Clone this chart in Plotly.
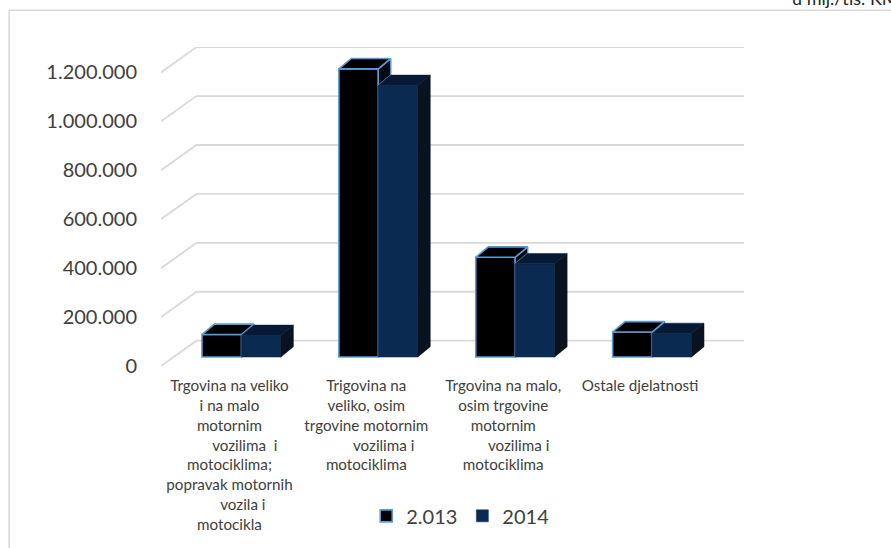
import plotly.graph_objects as go

# ---- data ----
categories = [
    "Trgovina na veliko<br>i na malo<br>motornim<br>\u00a0\u00a0\u00a0\u00a0\u00a0\u00a0\u00a0\u00a0vozilima\u00a0\u00a0i<br>motociklima;<br>popravak motornih<br>\u00a0\u00a0\u00a0\u00a0\u00a0\u00a0\u00a0vozila i<br>motocikla",
    "Trigovina na<br>veliko, osim<br>trgovine motornim<br>\u00a0\u00a0\u00a0\u00a0\u00a0\u00a0\u00a0\u00a0\u00a0vozilima i<br>motociklima",
    "Trgovina na malo,<br>osim trgovine<br>motornim<br>\u00a0\u00a0\u00a0\u00a0\u00a0\u00a0\u00a0\u00a0vozilima i<br>motociklima",
    "Ostale djelatnosti",
]
series_names = ["2.013", "2014"]
values_2013 = [92000, 1178000, 408000, 102500]
values_2014 = [88000, 1110000, 381000, 96000]
y_tick_vals = [0, 200000, 400000, 600000, 800000, 1000000, 1200000]
y_tick_text = ["0", "200.000", "400.000", "600.000", "800.000", "1.000.000", "1.200.000"]
unit_note = "u mlj./tis. KM"

# ---- layout geometry (pixels) ----
W, H = 891, 548
ML, MR, MT, MB = 160.5, 147, 46.5, 180
plot_w = W - ML - MR
plot_h = H - MT - MB
px_per_x = 137.0
x0_range = -0.5
x1_range = x0_range + plot_w / px_per_x
y_max = 1304000
ux = 1.0 / px_per_x            # x units per pixel
uy = y_max / plot_h            # y units per pixel

# 3D offsets
wall_dx, wall_dy = 35.5 * ux, 25.5 * uy      # back wall offset
plane_dx, plane_dy = 12.0 * ux, 9.0 * uy     # bar front plane offset
depth_dx, depth_dy = 12.5 * ux, 10.5 * uy    # bar depth
bar_w = 39.5 * ux

c13_front = "#000000"
c13_edge = "#5b9bd5"
c13_side = "#050a10"
c14_front = "#0b2a52"
c14_top = "#061a36"
c14_side = "#08131f"
grid_c = "#d9d9d9"
text_c = "#404040"
font_f = "Lato"

fig = go.Figure()

centers = [i + plane_dx for i in range(len(categories))]
base = plane_dy

# front faces as bars
fig.add_trace(go.Bar(
    name=series_names[0], x=centers, y=values_2013, base=[base] * 4,
    width=[bar_w] * 4, offset=-bar_w,
    marker=dict(color=c13_front, line=dict(color=c13_edge, width=1.6)),
))
fig.add_trace(go.Bar(
    name=series_names[1], x=centers, y=values_2014, base=[base] * 4,
    width=[bar_w] * 4, offset=0,
    marker=dict(color=c14_front, line=dict(color=c14_front, width=0.5)),
))

def poly(xs, ys, fill, line_c, lw):
    fig.add_trace(go.Scatter(
        x=xs + [xs[0]], y=ys + [ys[0]], mode="lines", fill="toself",
        fillcolor=fill, line=dict(color=line_c, width=lw),
        showlegend=False, hoverinfo="skip",
    ))

for i, c in enumerate(centers):
    v13, v14 = values_2013[i], values_2014[i]
    xl, xr = c - bar_w, c
    yt = base + v13
    yt2 = base + v14
    if v13 > v14:
        poly([xr, xr, xr + depth_dx, xr + depth_dx],
             [yt2, yt, yt + depth_dy, yt2 + depth_dy], c13_side, c13_edge, 1.4)
    poly([xl, xr, xr + depth_dx, xl + depth_dx],
         [yt, yt, yt + depth_dy, yt + depth_dy], c13_front, c13_edge, 1.6)
    xl2, xr2 = c, c + bar_w
    poly([xl2, xr2, xr2 + depth_dx, xl2 + depth_dx],
         [yt2, yt2, yt2 + depth_dy, yt2 + depth_dy], c14_top, c14_top, 0.5)
    poly([xr2, xr2, xr2 + depth_dx, xr2 + depth_dx],
         [base, yt2, yt2 + depth_dy, base + depth_dy], c14_side, c14_side, 0.5)

# back-wall gridlines with diagonal to the front plane
shapes = []
x_front_left = x0_range
x_back_right = len(categories) - 0.5 + wall_dx
for v in y_tick_vals:
    path = (f"M{x_front_left},{v} L{x_front_left + wall_dx},{v + wall_dy} "
            f"L{x_back_right},{v + wall_dy}")
    shapes.append(dict(type="path", path=path, xref="x", yref="y",
                       line=dict(color=grid_c, width=1.8), layer="below"))

def pxx(p):
    return (p - ML) / plot_w
def pxy(p):
    return (H - MB - p) / plot_h
shapes.append(dict(type="rect", xref="paper", yref="paper",
                   x0=pxx(8.5), x1=pxx(W + 20), y0=pxy(H + 20), y1=pxy(9.5),
                   line=dict(color=grid_c, width=1.6), fillcolor="rgba(0,0,0,0)",
                   layer="below"))

fig.update_layout(
    width=W, height=H,
    margin=dict(l=ML, r=MR, t=MT, b=MB, pad=0),
    paper_bgcolor="white", plot_bgcolor="white",
    barmode="overlay",
    showlegend=True,
    legend=dict(orientation="h", x=pxx(460), y=pxy(519), xanchor="center", yanchor="middle",
                font=dict(family=font_f, size=20, color=text_c),
                traceorder="normal", itemwidth=30, bgcolor="rgba(0,0,0,0)"),
    font=dict(family=font_f, color=text_c),
    shapes=shapes,
    annotations=[dict(text=unit_note, xref="paper", yref="paper",
                      x=pxx(790), y=pxy(-3), xanchor="left", yanchor="middle",
                      showarrow=False, font=dict(family=font_f, size=18, color="#262626"))],
    xaxis=dict(range=[x0_range, x1_range], tickvals=list(range(len(categories))),
               ticktext=categories, tickangle=0, showgrid=False, zeroline=False,
               showline=False, ticks="outside", ticklen=6, tickcolor="rgba(0,0,0,0)",
               tickfont=dict(family=font_f, size=15.2, color=text_c), fixedrange=True),
    yaxis=dict(range=[0, y_max], tickvals=y_tick_vals, ticktext=y_tick_text,
               showgrid=False, zeroline=False, showline=False,
               ticks="outside", ticklen=19, tickcolor="rgba(0,0,0,0)",
               tickfont=dict(family=font_f, size=20, color=text_c), fixedrange=True),
)

fig.write_html(
    "out.html",
    config={"displayModeBar": False},
    post_script="document.body.style.margin='0';document.body.style.overflow='hidden';",
)
